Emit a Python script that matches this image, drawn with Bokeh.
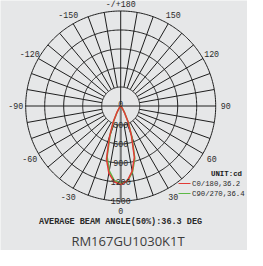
import numpy as np
from bokeh.plotting import figure
from bokeh.models import Range1d
from bokeh.core.properties import value
from bokeh.embed import file_html
from bokeh.resources import INLINE

# ---- data ----
angles_deg = [0, 5, 10, 15, 20, 25, 30, 35, 40, 45, 50, 60, 70, 80, 90]
c0_side = [1240, 1188, 1045, 835, 492, 265, 115, 44, 17, 7, 3, 1, 0, 0, 0]
c180_side = [1240, 1200, 1075, 868, 522, 282, 126, 47, 19, 7, 3, 1, 0, 0, 0]
c90_side = [1222, 1195, 1066, 862, 516, 283, 122, 46, 18, 7, 3, 1, 0, 0, 0]
c270_side = [1222, 1180, 1038, 828, 488, 262, 114, 43, 17, 7, 3, 1, 0, 0, 0]
ring_values = [300, 600, 900, 1200, 1500]
angle_labels = ["0", "30", "60", "90", "120", "150", "-/+180", "-150", "-120", "-90", "-60", "-30"]
angle_label_deg = [0, 30, 60, 90, 120, 150, 180, -150, -120, -90, -60, -30]
legend_names = ["C0/180,36.2", "C90/270,36.4"]
unit_text = "UNIT:cd"
beam_text = "AVERAGE BEAM ANGLE(50%):36.3 DEG"
model_text = "RM167GU1030K1T"

BG = "#e6e7e8"
RMAX = 1500.0
PX = RMAX / 95.0  # cd per pixel
CX, CY = 128.2, 113.5  # center in page pixels

def d(px, py):
    return ((px - CX) * PX, (CY - py) * PX)

W, H = 247, 250
x0, y1 = d(8, 8)
x1, y0 = d(8 + W, 8 + H)

p = figure(width=W, height=H, frame_width=W, frame_height=H, title=None,
           output_backend="svg", toolbar_location=None,
           x_range=Range1d(x0, x1), y_range=Range1d(y0, y1),
           x_axis_type=None, y_axis_type=None,
           min_border=0, min_border_left=0, min_border_right=0,
           min_border_top=0, min_border_bottom=0)
p.background_fill_color = BG
p.border_fill_color = BG
p.outline_line_color = None
p.grid.visible = False

def pol(r, th_deg):
    th = np.radians(th_deg)
    return r * np.sin(th), -r * np.cos(th)

# rings
t = np.linspace(0, 360, 361)
rx, ry = [], []
for rv in ring_values:
    x, y = pol(rv, t)
    rx.append(list(x)); ry.append(list(y))
p.multi_line(rx, ry, line_color="#1e1e1e", line_width=1)

# spokes
sx, sy = [], []
for a in range(0, 360, 10):
    if a % 90 == 0:
        continue
    xa, ya = pol(np.array([ring_values[0], RMAX]), a)
    sx.append(list(xa)); sy.append(list(ya))
# diameters
sx.append([-RMAX, RMAX]); sy.append([0, 0])
sx.append([0, 0]); sy.append([-RMAX, RMAX])
p.multi_line(sx, sy, line_color="#1e1e1e", line_width=1)
p.line([0, 0], [0, -RMAX], line_color="#7a7a7a", line_width=2)

# curves (left side values, right side values)
ang = np.array(angles_deg, dtype=float)
def curve(vals_left, vals_right):
    th = np.concatenate([-ang[::-1], ang[1:]])
    r = np.concatenate([np.array(vals_left, float)[::-1], np.array(vals_right, float)[1:]])
    return pol(r, th)

gx, gy = curve(c270_side, c90_side)
p.line(gx, gy, line_color="#5cb946", line_width=1.5)
rxc, ryc = curve(c180_side, c0_side)
p.line(rxc, ryc, line_color="#e23b36", line_width=1.5)

mono = value("Liberation Mono")

# ring labels
lx = [0] * (len(ring_values) + 1)
ly = [2 * PX] + [-v for v in ring_values]
p.text(lx, ly, text=["0"] + [str(v) for v in ring_values], text_font=mono,
       text_font_size="8.3px", text_color="#2a2a2a", text_align="center",
       text_baseline="middle")

# angle labels
lr = 105 * PX
ax_, ay_ = pol(lr, np.array(angle_label_deg, float))
ay_ = np.array(ay_)
ay_[angle_label_deg.index(180)] = d(0, 12)[1]
p.text(list(ax_), list(ay_), text=angle_labels, text_font=mono,
       text_font_size="8.3px", text_color="#2a2a2a", text_align="center",
       text_baseline="middle")

# legend
ux, uy = d(234, 181)
p.text([ux], [uy], text=[unit_text], text_font=mono, text_font_size="7.4px",
       text_font_style="bold", text_color="#1a1a1a", text_align="center",
       text_baseline="middle")
lcol = ["#e23b36", "#5cb946"]
for i, name in enumerate(legend_names):
    ya = 191 + 10 * i
    a0, b0 = d(186, ya)
    a1, b1 = d(198, ya)
    p.segment([a0], [b0], [a1], [b1], line_color=lcol[i], line_width=1.2)
    tx, ty = d(199.5, ya)
    p.text([tx], [ty], text=[name], text_font=mono, text_font_size="7.3px",
           text_color="#2a2a2a", text_align="left", text_baseline="middle")

bx, by = d(128, 229)
p.text([bx], [by], text=[beam_text], text_font=mono, text_font_size="8.5px",
       text_font_style="bold", text_color="#2a2a2a", text_align="center",
       text_baseline="middle")

mx, my = d(135.5, 248.5)
p.text([mx], [my], text=[model_text], text_font=value("Open Sans"),
       text_font_size="13px", text_color="#3c3c3c", text_align="center",
       text_baseline="middle")

open("out.html", "w").write(file_html(p, INLINE))
